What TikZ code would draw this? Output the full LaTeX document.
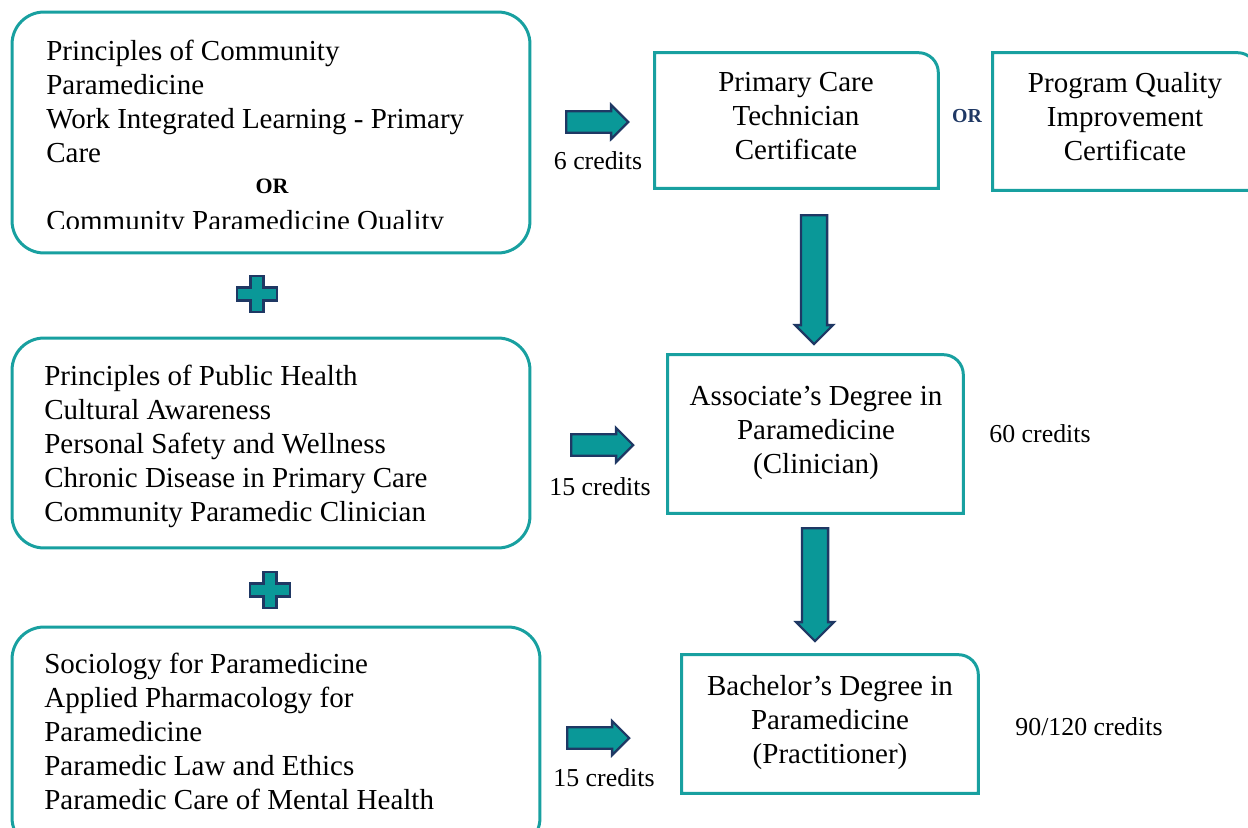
\documentclass[tikz,border=0pt]{standalone}
\usepackage{fontspec}
\setmainfont{Liberation Serif}
\usetikzlibrary{shapes.arrows}
\definecolor{boxteal}{RGB}{24,160,160}
\definecolor{arrowteal}{RGB}{10,152,152}
\definecolor{navy}{RGB}{31,56,100}

\begin{document}
\begin{tikzpicture}[x=0.02cm,y=0.02cm,
  course/.style={draw=boxteal,line width=1.7pt,rounded corners=0.64cm,inner sep=0pt},
  lines/.style={anchor=north west,align=left,inner sep=0pt,font=\fontsize{16.5}{19.35}\selectfont},
  awardbox/.style={inner sep=0pt},
  award/.style={align=center,inner sep=0pt,font=\fontsize{16.5}{19.35}\selectfont},
  awardline/.style={draw=boxteal,line width=1.7pt},
  credits/.style={inner sep=0pt,font=\fontsize{14.7}{17}\selectfont},
  rarrow/.style={single arrow,draw=navy,fill=arrowteal,line width=1.3pt,inner sep=0pt,
    text height=0.3cm,text depth=0pt,minimum width=0.68cm,minimum height=1.24cm,
    single arrow head extend=0.1cm,anchor=tail},
  darrow/.style={rarrow,rotate=-90,text height=0.4cm,minimum width=0.76cm},
  plussign/.style={draw=navy,fill=arrowteal,line width=1.3pt}]

\useasboundingbox (0,0) rectangle (1248,-828);

% course boxes
\node[course,minimum width=10.36cm,minimum height=4.82cm] (mod1) at (271,-132.5) {};
\node[course,minimum width=10.36cm,minimum height=4.2cm] (mod2) at (271,-443) {};
\node[course,minimum width=10.56cm,minimum height=4.46cm] (mod3) at (276,-738.5) {};

\begin{scope}
\clip (12,-12) rectangle (530,-228);
\node[lines] (mod1txt) at (46,-40) {Principles of Community\\Paramedicine\\Work Integrated Learning - Primary\\Care\\\mbox{}\\Community Paramedicine Quality};
\end{scope}
\node[font=\bfseries\fontsize{12.5}{15}\selectfont,inner sep=0pt] (or1) at (272,-186) {OR};
\node[lines] (mod2txt) at (44,-365) {Principles of Public Health\\Cultural Awareness\\Personal Safety and Wellness\\Chronic Disease in Primary Care\\Community Paramedic Clinician};
\node[lines] (mod3txt) at (44,-653) {Sociology for Paramedicine\\Applied Pharmacology for\\Paramedicine\\Paramedic Law and Ethics\\Paramedic Care of Mental Health};

\foreach \px/\py in {257/294,270/590}
  \draw[plussign,shift={(\px,-\py)}] (-6.5,18) -- (6.5,18) -- (6.5,6.5) -- (20,6.5) -- (20,-6.5) -- (6.5,-6.5) -- (6.5,-18) -- (-6.5,-18) -- (-6.5,-6.5) -- (-20,-6.5) -- (-20,6.5) -- (-6.5,6.5) -- cycle;

% awards
\node[awardbox,minimum width=5.66cm,minimum height=2.7cm] (pct) at (796.5,-120.5) {};
\node[awardbox,minimum width=5.28cm,minimum height=2.74cm] (pqi) at (1125,-121.5) {};
\node[awardbox,minimum width=5.9cm,minimum height=3.16cm] (assoc) at (815.5,-434) {};
\node[awardbox,minimum width=5.92cm,minimum height=2.76cm] (bach) at (830,-724) {};
\foreach \b in {pct,pqi,assoc,bach}
  \draw[awardline] (\b.south west) -- (\b.north west) -- ([xshift=-0.4cm]\b.north east)
    arc[start angle=90,end angle=0,radius=0.4cm] -- (\b.south east) -- cycle;

\node[award] (pcttxt) at (796,-116) {Primary Care\\Technician\\Certificate};
\node[award] (pqitxt) at (1125,-117) {Program Quality\\Improvement\\Certificate};
\node[award] (assoctxt) at (816,-433) {Associate’s Degree in\\Paramedicine\\(Clinician)};
\node[award] (bachtxt) at (830,-723) {Bachelor’s Degree in\\Paramedicine\\(Practitioner)};
\node[font=\bfseries\fontsize{11.3}{13}\selectfont,text=navy,inner sep=0pt] (or2) at (967,-116) {OR};

\node[rarrow] (a1) at (565,-122) {};
\node[rarrow] (a2) at (570,-445) {};
\node[rarrow] (a3) at (566,-738) {};
\node[darrow,minimum height=2.58cm] (d1) at (814,-214) {};
\node[darrow,minimum height=2.26cm] (d2) at (815,-527) {};

\node[credits] (c1) at (598,-161) {6 credits};
\node[credits] (c2) at (600,-487) {15 credits};
\node[credits] (c3) at (604,-778) {15 credits};
\node[credits] (c4) at (1040,-434) {60 credits};
\node[credits] (c5) at (1089,-727) {90/120 credits};
\end{tikzpicture}
\end{document}
